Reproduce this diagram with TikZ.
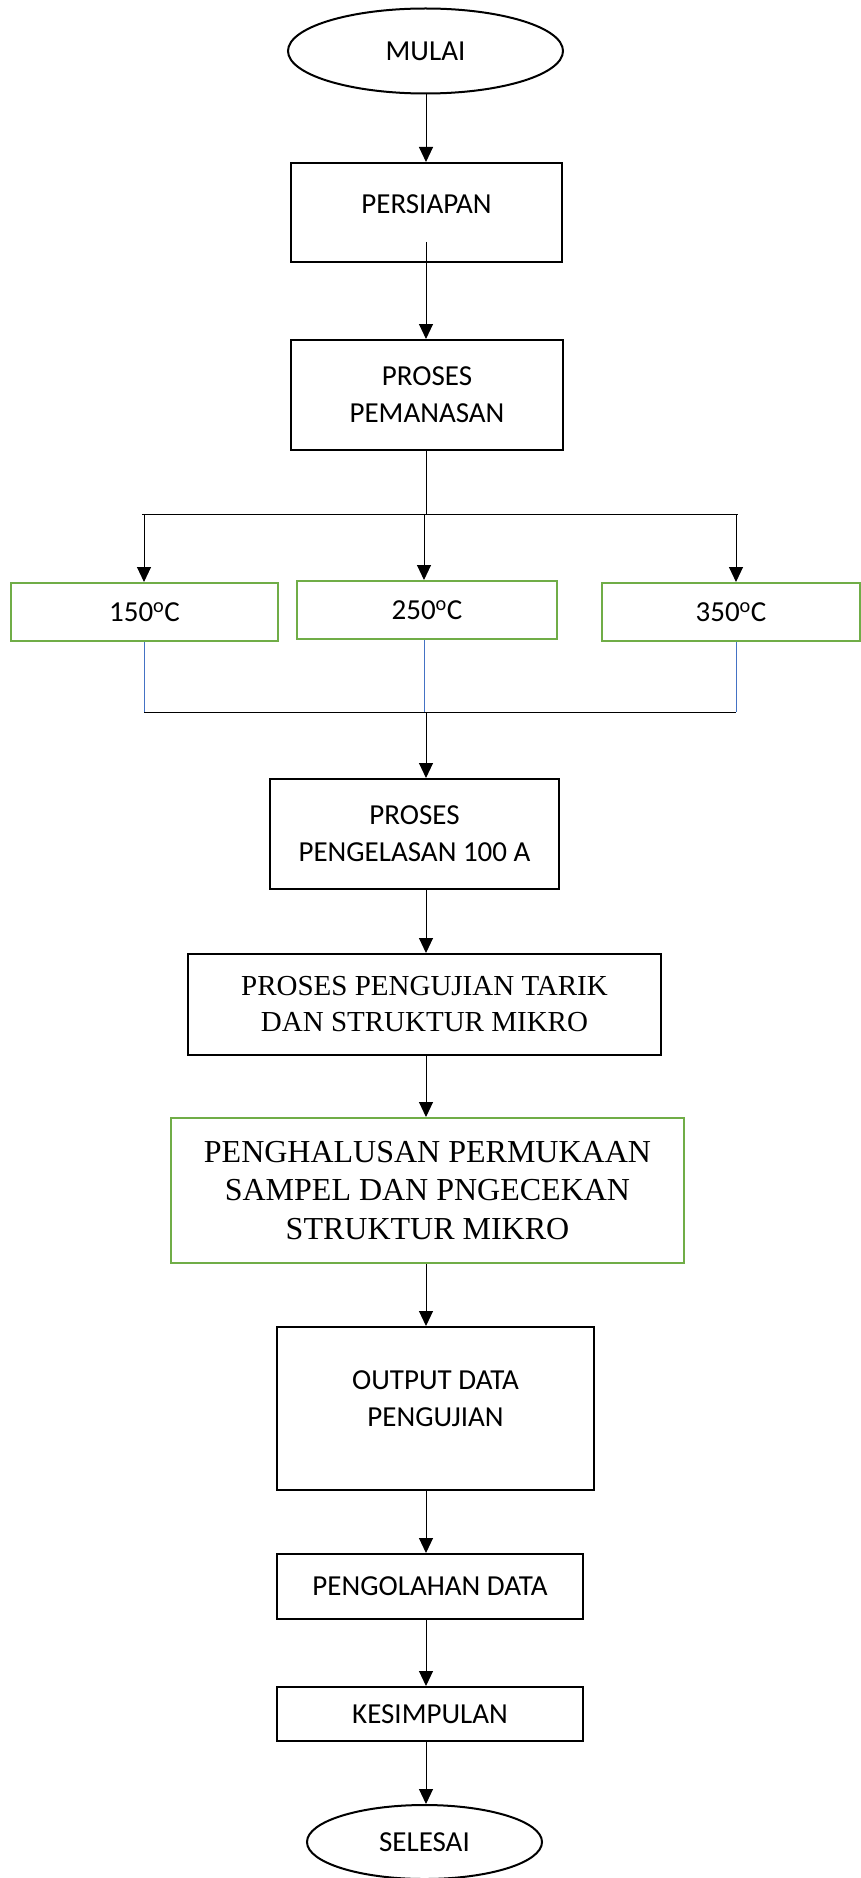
\documentclass[tikz,border=0pt]{standalone}
\usepackage{fontspec}
\setmainfont{Carlito}
\newfontfamily\timesfont{Liberation Serif}
\usetikzlibrary{arrows.meta,positioning,calc,shapes.geometric}
\definecolor{boxgreen}{HTML}{70AD47}
\definecolor{lineblue}{HTML}{4472C4}

\begin{document}
\begin{tikzpicture}[x=1pt,y=-1pt,
		boxtext/.style={align=center,font=\fontsize{29}{37}\selectfont},
		stepbox/.style={rectangle,draw,line width=2pt,inner sep=0pt,boxtext},
		tempbox/.style={stepbox,draw=boxgreen},
		endbox/.style={ellipse,draw,line width=2pt,inner sep=0pt,boxtext},
		arr/.style={-{Triangle[length=15pt,width=14pt]},line width=1pt}]
				\useasboundingbox (0,0) rectangle (860,1878);
				\coordinate (spine) at (426,0);

				% Start and preparation
				\node[endbox,minimum width=275,minimum height=85] (mulai) at (425.5,51) {MULAI};
				\node[stepbox,minimum width=271,minimum height=99,label={[boxtext,yshift=8pt]center:PERSIAPAN}] (persiapan) at (426.5,212.5) {};
				\node[stepbox,minimum width=272,minimum height=110] (pemanasan) at (427,395) {PROSES\\PEMANASAN};

				% Temperature boxes
				\foreach \t/\x/\y/\w/\ax in {150/144.5/612/267/144, 250/427/610/260/424, 350/731/612/258/736} {
					\node[tempbox,minimum width=\w,minimum height=58] (t\t) at (\x,\y) {\t\textsuperscript{o}C};
					\coordinate (a\t) at (\ax,0);
				}
				\coordinate (splitL) at (142,514);
				\coordinate (splitR) at (738,514);
				\coordinate (mergeL) at (144,712);
				\coordinate (mergeR) at (736,712);

				% Process steps
				\node[stepbox,minimum width=289,minimum height=110] (pengelasan) at (414.5,834) {PROSES\\PENGELASAN 100 A};
				\node[stepbox,minimum width=473,minimum height=101,font=\timesfont\fontsize{29}{36}\selectfont] (pengujian) at (424.5,1004.5) {PROSES PENGUJIAN TARIK\\DAN STRUKTUR MIKRO};
				\node[tempbox,minimum width=513,minimum height=145,font=\timesfont\fontsize{32}{38.5}\selectfont] (penghalusan) at (427.5,1190.5) {PENGHALUSAN PERMUKAAN\\SAMPEL DAN PNGECEKAN\\STRUKTUR MIKRO};
				\node[stepbox,minimum width=317,minimum height=163,label={[boxtext,yshift=10pt]center:{OUTPUT DATA\\PENGUJIAN}}] (output) at (435.5,1408.5) {};
				\node[stepbox,minimum width=306,minimum height=65] (pengolahan) at (430,1586.5) {PENGOLAHAN DATA};
				\node[stepbox,minimum width=306,minimum height=54] (kesimpulan) at (430,1714) {KESIMPULAN};
				\node[endbox,minimum width=235,minimum height=74] (selesai) at (424.5,1842) {SELESAI};

				% Arrows
				\draw[arr] (spine |- mulai.south) -- (spine |- persiapan.north);
				\draw[arr] ([yshift=21pt]spine |- persiapan.south) -- (spine |- pemanasan.north);
				\draw[line width=1pt] (spine |- pemanasan.south) -- (spine |- splitL);
				\draw[line width=1pt] (splitL) -- (splitR);
				\foreach \t in {150,250,350} {
					\draw[arr] (a\t |- splitL) -- (a\t |- t\t.north);
					\draw[lineblue,line width=0.8pt] (a\t |- t\t.south) -- (a\t |- mergeL);
				}
				\draw[line width=1pt] (mergeL) -- (mergeR);
				\draw[arr] (spine |- mergeL) -- (spine |- pengelasan.north);
				\draw[arr] (spine |- pengelasan.south) -- (spine |- pengujian.north);
				\draw[arr] (spine |- pengujian.south) -- (spine |- penghalusan.north);
				\draw[arr] (spine |- penghalusan.south) -- (spine |- output.north);
				\draw[arr] (spine |- output.south) -- (spine |- pengolahan.north);
				\draw[arr] (spine |- pengolahan.south) -- (spine |- kesimpulan.north);
				\draw[arr] (spine |- kesimpulan.south) -- (spine |- selesai.north);
\end{tikzpicture}
\end{document}
